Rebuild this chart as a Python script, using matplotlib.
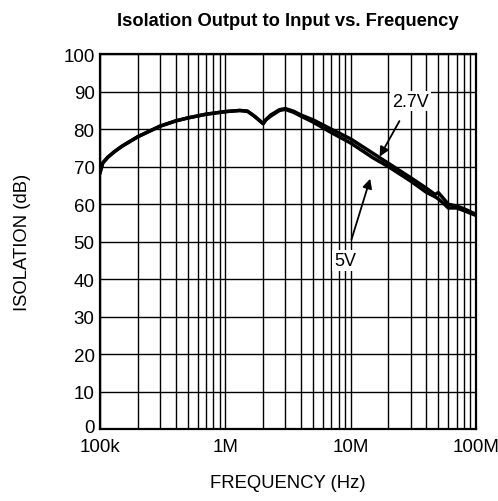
import numpy as np
import matplotlib
matplotlib.use('Agg')
import matplotlib.pyplot as plt
import matplotlib.transforms as mtransforms
from matplotlib.ticker import FixedLocator, LogLocator, NullFormatter

plt.rcParams['font.family'] = ['Liberation Sans', 'DejaVu Sans']

#%% data
freq = [1.0e5, 1.05e5, 1.15e5, 1.3e5, 1.5e5, 2.0e5, 3.0e5, 4.0e5, 5.0e5, 7.0e5,
        1.0e6, 1.3e6, 1.5e6, 1.7e6, 2.0e6, 2.1e6, 2.3e6, 2.7e6, 3.0e6, 3.5e6,
        4.0e6, 5.0e6, 7.0e6, 1.0e7, 1.5e7, 2.0e7, 3.0e7, 4.0e7, 4.7e7, 5.0e7,
        5.5e7, 6.0e7, 7.0e7, 8.0e7, 1.0e8]
iso_27v = [68.5, 71.0, 72.5, 74.0, 75.5, 78.0, 80.8, 82.2, 83.0, 84.0,
           84.7, 85.0, 84.8, 83.5, 81.5, 82.5, 83.8, 85.2, 85.5, 84.8,
           83.8, 82.5, 80.0, 77.4, 73.6, 70.9, 67.1, 64.3, 62.6, 63.1,
           61.5, 60.0, 59.5, 58.8, 57.3]
iso_5v = [68.5, 71.0, 72.5, 74.0, 75.5, 78.0, 80.8, 82.2, 83.0, 84.0,
          84.7, 85.0, 84.8, 83.5, 81.5, 82.5, 83.5, 85.0, 85.3, 84.5,
          83.5, 81.9, 79.1, 76.3, 72.4, 70.0, 66.2, 63.2, 62.0, 61.4,
          60.2, 59.0, 59.0, 58.3, 57.0]

xticks = [1e5, 1e6, 1e7, 1e8]
xticklabels = ['100k', '1M', '10M', '100M']
yticks = list(range(0, 101, 10))

#%% plot
fig = plt.figure(figsize=(4.98, 5.02), dpi=100)
ax = fig.add_axes([0.201, 0.143, 0.755, 0.747])

ax.plot(freq, iso_27v, color='black', lw=2.5)
ax.plot(freq, iso_5v, color='black', lw=2.5)

ax.set_xscale('log')
ax.set_xlim(1e5, 1e8)
ax.set_ylim(0, 100)
ax.xaxis.set_major_locator(FixedLocator(xticks))
ax.set_xticklabels(xticklabels)
ax.xaxis.set_minor_locator(LogLocator(base=10, subs=np.arange(2, 10)))
ax.xaxis.set_minor_formatter(NullFormatter())
ax.set_yticks(yticks)

ax.grid(True, which='both', axis='x', color='black', lw=1.0)
ax.grid(True, which='major', axis='y', color='black', lw=1.0)
ax.tick_params(which='both', length=0, labelsize=13.5)
ax.tick_params(axis='y', pad=4)
ax.tick_params(axis='x', pad=6)
for s in ax.spines.values():
    s.set_linewidth(1.6)

# the "0" label sits a little above the bottom axis line
ylabels = ax.get_yticklabels()
ylabels[0].set_transform(ylabels[0].get_transform() +
                         mtransforms.ScaledTranslation(0, 3/72, fig.dpi_scale_trans))

ax.annotate('2.7V', xy=(1.7e7, 72.7), xytext=(3.0e7, 87.5),
            ha='center', va='center', fontsize=13,
            bbox=dict(boxstyle='square,pad=0.1', fc='white', ec='none'),
            arrowprops=dict(arrowstyle='-|>', color='black', lw=1.3,
                            shrinkA=8, shrinkB=0, mutation_scale=14))
ax.annotate('5V', xy=(1.43e7, 66.8), xytext=(9.0e6, 45.0),
            ha='center', va='center', fontsize=13,
            bbox=dict(boxstyle='square,pad=0.1', fc='white', ec='none'),
            arrowprops=dict(arrowstyle='-|>', color='black', lw=1.3,
                            shrinkA=8, shrinkB=0, mutation_scale=14))

ax.set_title('Isolation Output to Input vs. Frequency', fontsize=13.2,
             fontweight='bold', pad=21)
ax.set_xlabel('FREQUENCY (Hz)', fontsize=13.3, labelpad=14)
ax.set_ylabel('ISOLATION (dB)', fontsize=13.3, labelpad=23)

fig.savefig('out.png', dpi=100)
